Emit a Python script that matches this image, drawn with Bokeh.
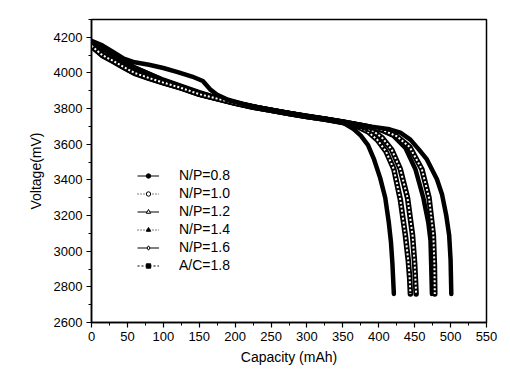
from bokeh.plotting import figure
from bokeh.models import FixedTicker, Legend, LegendItem, ColumnDataSource, Range1d
from bokeh.embed import file_html
from bokeh.resources import INLINE

# ---- data ----
cap_np08 = [0, 15, 30, 45, 60, 80, 100, 125, 150, 175, 200, 225, 250, 275, 300, 325, 350, 365, 375, 385, 393, 402, 409, 414, 417, 419, 421]
v_np08 = [4165, 4135, 4100, 4062, 4030, 3995, 3960, 3925, 3890, 3860, 3835, 3810, 3792, 3775, 3758, 3743, 3722, 3685, 3648, 3595, 3520, 3410, 3300, 3160, 3050, 2930, 2760]

cap_np10 = [0, 15, 30, 45, 60, 80, 100, 125, 150, 175, 200, 225, 250, 275, 300, 325, 350, 370, 385, 398, 410, 421, 430, 437, 441, 443, 444]
v_np10 = [4150, 4098, 4065, 4030, 3998, 3970, 3945, 3915, 3880, 3855, 3830, 3808, 3790, 3772, 3755, 3740, 3722, 3700, 3670, 3625, 3560, 3460, 3290, 3090, 2950, 2850, 2760]

cap_np12 = [0, 15, 30, 45, 60, 80, 100, 125, 150, 175, 200, 225, 250, 275, 300, 325, 350, 375, 392, 405, 418, 430, 440, 447, 450, 452]
v_np12 = [4155, 4105, 4070, 4035, 4002, 3972, 3947, 3917, 3882, 3856, 3831, 3809, 3791, 3773, 3756, 3741, 3724, 3702, 3675, 3635, 3570, 3460, 3300, 3090, 2930, 2760]

cap_np14 = [0, 15, 30, 45, 60, 80, 100, 125, 150, 175, 200, 225, 250, 275, 300, 325, 350, 380, 400, 420, 437, 451, 462, 469, 472, 473, 474]
v_np14 = [4168, 4138, 4102, 4064, 4032, 3997, 3962, 3927, 3892, 3862, 3836, 3812, 3794, 3776, 3760, 3745, 3728, 3705, 3685, 3648, 3580, 3460, 3300, 3160, 3060, 2920, 2760]

cap_np16 = [0, 15, 30, 45, 60, 80, 100, 125, 150, 175, 200, 225, 250, 275, 300, 325, 350, 385, 405, 425, 443, 460, 470, 476, 477.5, 478]
v_np16 = [4152, 4100, 4068, 4033, 4000, 3972, 3946, 3916, 3881, 3856, 3831, 3809, 3791, 3773, 3756, 3741, 3725, 3698, 3680, 3645, 3585, 3460, 3300, 3090, 2920, 2760]

cap_ac18 = [0, 15, 30, 45, 60, 80, 100, 120, 140, 155, 166, 175, 190, 210, 235, 260, 285, 310, 335, 360, 390, 415, 430, 444, 456, 467, 481, 488, 494, 498, 500, 501]
v_ac18 = [4180, 4155, 4118, 4080, 4060, 4046, 4028, 4005, 3980, 3955, 3905, 3878, 3850, 3828, 3805, 3785, 3768, 3750, 3737, 3720, 3698, 3684, 3665, 3626, 3570, 3515, 3404, 3320, 3200, 3090, 2950, 2760]

series_labels = ["N/P=0.8", "N/P=1.0", "N/P=1.2", "N/P=1.4", "N/P=1.6", "A/C=1.8"]
series_caps = [cap_np08, cap_np10, cap_np12, cap_np14, cap_np16, cap_ac18]
series_volts = [v_np08, v_np10, v_np12, v_np14, v_np16, v_ac18]
series_hollow = [False, True, True, False, True, False]
series_markers = ["circle", "circle", "triangle", "triangle", "diamond", "square"]
series_marker_filled = [True, False, False, True, False, True]
series_dash = ["solid", "1 2", "solid", "1 2", "solid", "2 2"]

x_ticks = [0, 50, 100, 150, 200, 250, 300, 350, 400, 450, 500, 550]
y_ticks = [2600, 2800, 3000, 3200, 3400, 3600, 3800, 4000, 4200]

FONT = "Liberation Sans"

p = figure(width=502, height=367, output_backend="svg", toolbar_location=None,
           x_range=Range1d(0, 550), y_range=Range1d(2600, 4300),
           min_border_left=91, min_border_right=16, min_border_top=19, min_border_bottom=43)
p.xgrid.visible = False
p.ygrid.visible = False
p.outline_line_color = "black"
p.outline_line_width = 1.5
p.background_fill_color = "white"
p.border_fill_color = "white"

for ax in (p.xaxis[0], p.yaxis[0]):
    ax.axis_line_width = 1.5
    ax.major_tick_out = 5
    ax.major_tick_in = 0
    ax.minor_tick_out = 3
    ax.minor_tick_in = 0
    ax.major_tick_line_width = 1.2
    ax.major_label_text_font = FONT
    ax.major_label_text_font_size = "13px"
    ax.major_label_text_color = "black"
    ax.axis_label_text_font = FONT
    ax.axis_label_text_font_size = "14px"
    ax.axis_label_text_font_style = "normal"
    ax.axis_label_text_color = "black"
    ax.major_label_standoff = 4

p.xaxis[0].ticker = FixedTicker(ticks=x_ticks, minor_ticks=list(range(0, 551, 25)))
p.yaxis[0].ticker = FixedTicker(ticks=y_ticks, minor_ticks=list(range(2600, 4301, 100)))
p.xaxis[0].axis_label = "Capacity (mAh)"
p.yaxis[0].axis_label = "Voltage(mV)"
p.xaxis[0].axis_label_standoff = 5
p.yaxis[0].axis_label_standoff = 7

# data curves
for caps, volts, hollow in zip(series_caps, series_volts, series_hollow):
    src = ColumnDataSource(dict(x=caps, y=volts))
    if hollow:
        p.line("x", "y", source=src, line_color="black", line_width=5.5, line_join="round", line_cap="round")
        p.line("x", "y", source=src, line_color="white", line_width=2, line_dash="2 2")
    else:
        p.line("x", "y", source=src, line_color="black", line_width=4.5, line_join="round", line_cap="round")

# legend (off-frame dummy renderers carry the legend glyph styles)
items = []
for lab, mk, filled, dash in zip(series_labels, series_markers, series_marker_filled, series_dash):
    dummy = ColumnDataSource(dict(x=[-1000, -999], y=[0, 0]))
    lr = p.line("x", "y", source=dummy, line_color="black", line_width=1, line_dash=dash)
    sr = p.scatter("x", "y", source=dummy, marker=mk, size=5, line_color="black", line_width=1,
                   fill_color="black" if filled else "white")
    items.append(LegendItem(label=lab, renderers=[lr, sr]))

legend = Legend(items=items, location=(46, 48), label_text_font=FONT, label_text_font_size="14px",
                label_text_color="black", glyph_width=22, glyph_height=11, label_height=18,
                label_standoff=20, spacing=0, padding=0, margin=0,
                background_fill_alpha=0, border_line_alpha=0)
p.add_layout(legend, "center")

open("out.html", "w").write(file_html(p, INLINE))
